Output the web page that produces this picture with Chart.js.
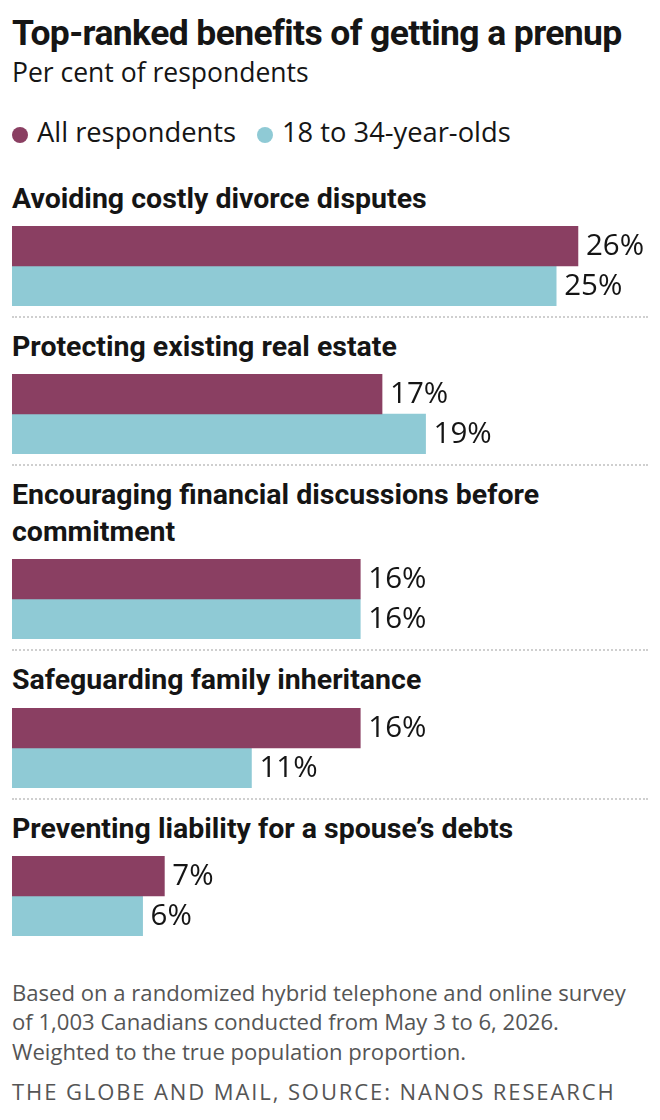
<!DOCTYPE html>
<html>
<head>
<meta charset="utf-8">
<script src="https://cdn.jsdelivr.net/npm/chart.js@4"></script>
<style>
    body { margin: 0; background: #fff; font-family: "Open Sans", sans-serif; color: #151515; }
    #page { width: 660px; padding: 13px 0 0 12px; box-sizing: border-box; }
    h1 { margin: 0; font-family: Roboto, sans-serif; font-size: 35.5px; line-height: 40px; font-weight: 700; white-space: nowrap; letter-spacing: -0.6px; }
    .sub { margin-top: 3px; font-size: 26.5px; line-height: 32px; }
    .legend { margin-top: 28px; font-size: 27.3px; line-height: 32px; white-space: nowrap; }
    .legend span { display: inline-block; }
    .dot { width: 16px; height: 16px; border-radius: 50%; margin-right: 9px; vertical-align: -1px; }
    #groups { margin-top: 31.8px; }
    .group-label { font-family: Roboto, sans-serif; font-size: 28.5px; line-height: 37px; font-weight: 700; white-space: nowrap; margin-bottom: 9.2px; }
    .box { position: relative; width: 648px; height: 80px; }
    .sep { width: 636px; margin-top: 10px; border-top: 2px dotted #cfcfcf; margin-bottom: 10px; }
    .notes { margin-top: 42px; font-size: 22.1px; line-height: 29.5px; color: #555; white-space: nowrap; }
    .source { margin-top: 9.3px; font-size: 22px; line-height: 30px; color: #555; letter-spacing: 1.9px; white-space: nowrap; }
</style>
</head>
<body>
<div id="page">
    <h1>Top-ranked benefits of getting a prenup</h1>
    <div class="sub">Per cent of respondents</div>
    <div class="legend" id="legend"></div>
    <div id="groups"></div>
    <div class="notes">Based on a randomized hybrid telephone and online survey<br>of 1,003 Canadians conducted from May 3 to 6, 2026.<br>Weighted to the true population proportion.</div>
    <div class="source">THE GLOBE AND MAIL, SOURCE: NANOS RESEARCH</div>
</div>
<script>
const SERIES = ['All respondents', '18 to 34-year-olds'];
const COLORS = ['#8a3f62', '#8fcad5'];

const CATEGORIES = [
    ['Avoiding costly divorce disputes'],
    ['Protecting existing real estate'],
    ['Encouraging financial discussions before', 'commitment'],
    ['Safeguarding family inheritance'],
    ['Preventing liability for a spouse\u2019s debts']
];

const ALL_RESPONDENTS = [26, 17, 16, 16, 7];
const YOUNG_ADULTS = [25, 19, 16, 11, 6];

const X_MAX = 29.77;

// legend
let legendHtml = '';
for (var i in SERIES) {
    legendHtml += '<span style="margin-right:' + (i == 0 ? 21 : 0) + 'px"><span class="dot" style="background:' + COLORS[i] + '"></span>' + SERIES[i] + '</span>';
}
document.getElementById('legend').innerHTML = legendHtml;

// value labels to the right of each bar
const valueLabels = {
    id: 'valueLabels',
    afterDatasetsDraw(chart) {
        const ctx = chart.ctx;
        ctx.save();
        ctx.font = '29.5px "Open Sans"';
        ctx.fillStyle = '#151515';
        ctx.textBaseline = 'middle';
        chart.data.datasets.forEach((ds, i) => {
            chart.getDatasetMeta(i).data.forEach((bar, j) => {
                ctx.fillText(ds.data[j] + '%', bar.x + 8, bar.y + 1);
            });
        });
        ctx.restore();
    }
};

function createChart(canvas, idx) {
    const config = {
        type: 'bar',
        data: {
            labels: [CATEGORIES[idx].join(' ')],
            datasets: [
                { label: SERIES[0], data: [ALL_RESPONDENTS[idx]], backgroundColor: COLORS[0] },
                { label: SERIES[1], data: [YOUNG_ADULTS[idx]], backgroundColor: COLORS[1] }
            ]
        },
        options: {
            indexAxis: 'y',
            responsive: true,
            maintainAspectRatio: false,
            animation: false,
            layout: { padding: 0 },
            datasets: { bar: { categoryPercentage: 1, barPercentage: 1, borderWidth: 0 } },
            scales: {
                x: { display: false, min: 0, max: X_MAX },
                y: { display: false }
            },
            plugins: {
                legend: { display: false },
                tooltip: { enabled: false }
            }
        },
        plugins: [valueLabels]
    };
    return new Chart(canvas, config);
}

const groups = document.getElementById('groups');
CATEGORIES.forEach((lines, idx) => {
    const label = document.createElement('div');
    label.className = 'group-label';
    label.innerHTML = lines.join('<br>');
    groups.appendChild(label);

    const box = document.createElement('div');
    box.className = 'box';
    const canvas = document.createElement('canvas');
    box.appendChild(canvas);
    groups.appendChild(box);

    if (idx < CATEGORIES.length - 1) {
        const sep = document.createElement('div');
        sep.className = 'sep';
        groups.appendChild(sep);
    }
    createChart(canvas, idx);
});
</script>
</body>
</html>
